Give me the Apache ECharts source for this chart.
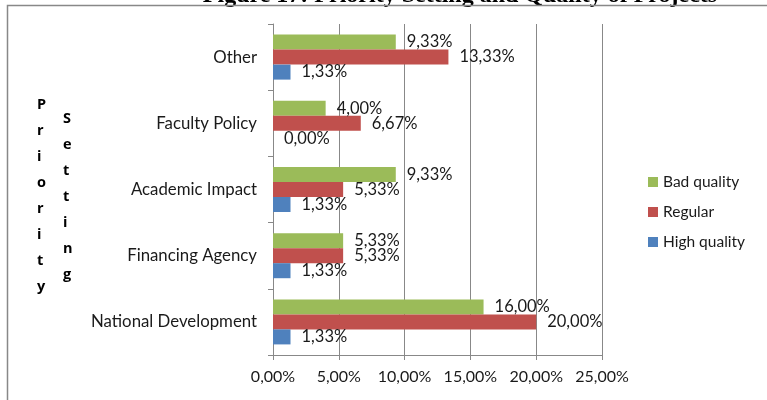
<!DOCTYPE html>
<html>
<head>
<meta charset="utf-8">
<script src="https://cdn.jsdelivr.net/npm/echarts@6/dist/echarts.min.js"></script>
<style>
  html, body { margin: 0; padding: 0; background: #fff; }
  #chart { width: 767px; height: 400px; }
</style>
</head>
<body>
<div id="chart"></div>
<script>
// categories bottom -> top, as in the original chart
var categories = ['National Development', 'Financing Agency', 'Academic Impact', 'Faculty Policy', 'Other'];
var highQuality = [1.33, 1.33, 1.33, 0.00, 1.33];
var regular = [20.00, 5.33, 5.33, 6.67, 13.33];
var badQuality = [16.00, 5.33, 9.33, 4.00, 9.33];
var xTicks = [0, 5, 10, 15, 20, 25];

function pct(v) {
  return Number(v).toFixed(2).replace('.', ',') + '%';
}

var chart = echarts.init(document.getElementById('chart'));
var font = 'Lato, "Open Sans", sans-serif';

function barSeries(name, data, color) {
  return {
    name: name,
    type: 'bar',
    data: data,
    barGap: '0%',
    barCategoryGap: '32%',
    itemStyle: { color: color },
    label: {
      show: true,
      position: 'right',
      distance: 11,
      formatter: function (p) { return pct(p.value); },
      color: '#1a1a1a',
      fontSize: 16.5,
      fontFamily: font
    }
  };
}

chart.setOption({
  animation: false,
  title: {
    text: 'Figure 17: Priority Setting and Quality of Projects',
    left: 455,
    textAlign: 'center',
    top: -21,
    textStyle: { fontFamily: '"Liberation Serif", serif', fontWeight: 'bold', fontSize: 24, color: '#000' }
  },
  legend: {
    orient: 'vertical',
    left: 643,
    top: 169,
    itemGap: 14,
    itemWidth: 10,
    itemHeight: 10,
    icon: 'rect',
    data: ['Bad quality', 'Regular', 'High quality'],
    textStyle: { fontFamily: font, fontSize: 15.5, color: '#1a1a1a' }
  },
  grid: { left: 273, right: 165, top: 24, bottom: 45 },
  xAxis: {
    type: 'value',
    min: xTicks[0],
    max: xTicks[xTicks.length - 1],
    interval: 5,
    axisLine: { show: true, lineStyle: { color: '#888' } },
    axisTick: { show: true, length: 5, lineStyle: { color: '#888' } },
    splitLine: { show: true, lineStyle: { color: '#888' } },
    axisLabel: { formatter: pct, fontFamily: font, fontSize: 16, color: '#1a1a1a', margin: 14 }
  },
  yAxis: {
    type: 'category',
    data: categories,
    axisLine: { show: true, lineStyle: { color: '#888' } },
    axisTick: { show: true, length: 5, lineStyle: { color: '#888' } },
    axisLabel: { fontFamily: font, fontSize: 16.8, color: '#1a1a1a', margin: 16 }
  },
  graphic: [
    { type: 'rect', shape: { x: 7.5, y: 5.5, width: 800, height: 420 }, style: { fill: null, stroke: '#888', lineWidth: 1.5 }, silent: true, z: 100 },
    { type: 'text', left: 37, top: 92, style: { text: 'Priority'.split('').join('\n'), font: 'bold 14.5px "Open Sans", sans-serif', lineHeight: 26, fill: '#000', align: 'center' } },
    { type: 'text', left: 63, top: 106, style: { text: 'Setting'.split('').join('\n'), font: 'bold 14.5px "Open Sans", sans-serif', lineHeight: 26, fill: '#000', align: 'center' } }
  ],
  series: [
    barSeries('Bad quality', badQuality, '#9BBB59'),
    barSeries('Regular', regular, '#C0504D'),
    barSeries('High quality', highQuality, '#4F81BD')
  ]
});
</script>
</body>
</html>
